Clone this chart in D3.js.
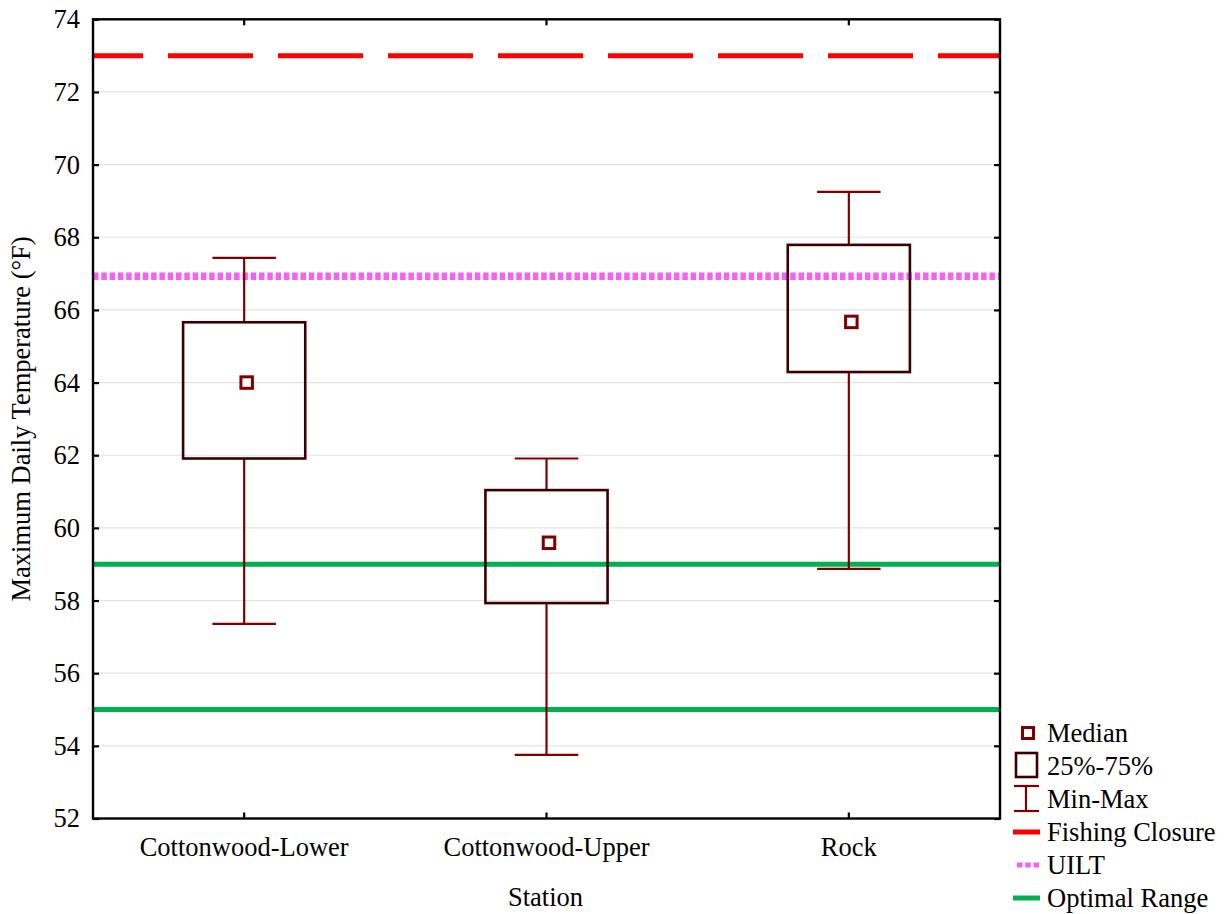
<!DOCTYPE html>
<html>
<head>
<meta charset="utf-8">
<script src="https://cdn.jsdelivr.net/npm/d3@7"></script>
<style>
  html, body { margin: 0; padding: 0; background: #fff; }
  svg { display: block; }
</style>
</head>
<body>
<svg id="chart" width="1226" height="914"></svg>
<script>
// ---- data ----
const stations = ["Cottonwood-Lower", "Cottonwood-Upper", "Rock"];
const minVals = [57.36, 53.75, 58.87];
const q1Vals = [61.91, 57.93, 64.29];
const medianVals = [64.0, 59.59, 65.67];
const q3Vals = [65.66, 61.04, 67.79];
const maxVals = [67.43, 61.91, 69.25];
const yTicks = [52, 54, 56, 58, 60, 62, 64, 66, 68, 70, 72, 74];
const fishingClosure = 73;
const uilt = 66.93;
const optimalRange = [55, 59];
const legendLabels = ["Median", "25%-75%", "Min-Max", "Fishing Closure", "UILT", "Optimal Range"];

// ---- layout ----
const L = 93, R = 1000, T = 19.3, B = 818.5;
const FONT = '"Liberation Serif", "Times New Roman", serif';
const fontSize = 26.5;
const svg = d3.select("#chart");

const x = d3.scaleBand().domain(stations).range([L, R]).padding(0);
const y = d3.scaleLinear().domain([52, 74]).range([B, T]);

const boxColor = "#3a0000";
const whiskColor = "#800000";

// gridlines
svg.append("g").selectAll("line")
  .data(yTicks.filter(d => d > 52 && d < 74))
  .join("line")
  .attr("x1", L).attr("x2", R)
  .attr("y1", d => y(d)).attr("y2", d => y(d))
  .attr("stroke", "#e3e3e3").attr("stroke-width", 1.2);

// axes (ticks inward)
const yAxisL = d3.axisLeft(y).tickValues(yTicks).tickSize(-6).tickPadding(13).tickFormat(d3.format("d"));
const gL = svg.append("g").attr("transform", `translate(${L},0)`).call(yAxisL)
  .attr("font-family", FONT).attr("font-size", fontSize);
gL.select(".domain").remove();
gL.selectAll(".tick line").attr("stroke", "#000").attr("stroke-width", 2.2);
gL.selectAll(".tick text").attr("font-size", fontSize).attr("font-family", FONT).attr("fill", "#000");

const yAxisR = d3.axisRight(y).tickValues(yTicks).tickSize(-6).tickFormat("");
const gR = svg.append("g").attr("transform", `translate(${R},0)`).call(yAxisR);
gR.select(".domain").remove();
gR.selectAll(".tick line").attr("stroke", "#000").attr("stroke-width", 2.2);

const xAxisB = d3.axisBottom(x).tickSize(-6).tickPadding(19);
const gB = svg.append("g").attr("transform", `translate(0,${B})`).call(xAxisB)
  .attr("font-family", FONT).attr("font-size", fontSize);
gB.select(".domain").remove();
gB.selectAll(".tick line").attr("stroke", "#000").attr("stroke-width", 2.2);
gB.selectAll(".tick text").attr("font-size", fontSize).attr("font-family", FONT).attr("fill", "#000");

const xAxisT = d3.axisTop(x).tickSize(-6).tickFormat("");
const gT = svg.append("g").attr("transform", `translate(0,${T})`).call(xAxisT);
gT.select(".domain").remove();
gT.selectAll(".tick line").attr("stroke", "#000").attr("stroke-width", 2.2);

// reference lines
svg.append("line")
  .attr("x1", L).attr("x2", R)
  .attr("y1", y(fishingClosure)).attr("y2", y(fishingClosure))
  .attr("stroke", "#ff0000").attr("stroke-width", 5)
  .attr("stroke-dasharray", "85,25").attr("stroke-dashoffset", 35);

svg.append("line")
  .attr("x1", L).attr("x2", R)
  .attr("y1", y(uilt)).attr("y2", y(uilt))
  .attr("stroke", "#f760f5").attr("stroke-width", 7.5)
  .attr("stroke-dasharray", "5.5,2.8");

svg.append("g").selectAll("line").data(optimalRange).join("line")
  .attr("x1", L).attr("x2", R)
  .attr("y1", d => y(d)).attr("y2", d => y(d))
  .attr("stroke", "#00b050").attr("stroke-width", 5);

// boxes
const bw = x.bandwidth();
const boxW = bw * 0.404;
const capW = bw * 0.21;
const data = stations.map((s, i) => ({
  s, min: minVals[i], q1: q1Vals[i], med: medianVals[i], q3: q3Vals[i], max: maxVals[i]
}));
const cx = d => x(d.s) + bw / 2;

const g = svg.append("g");
g.append("g").selectAll("line").data(data).join("line")
  .attr("x1", cx).attr("x2", cx)
  .attr("y1", d => y(d.q3)).attr("y2", d => y(d.max))
  .attr("stroke", whiskColor).attr("stroke-width", 2.2);
g.append("g").selectAll("line").data(data).join("line")
  .attr("x1", cx).attr("x2", cx)
  .attr("y1", d => y(d.q1)).attr("y2", d => y(d.min))
  .attr("stroke", whiskColor).attr("stroke-width", 2.2);
["max", "min"].forEach(k => {
  g.append("g").selectAll("line").data(data).join("line")
    .attr("x1", d => cx(d) - capW / 2).attr("x2", d => cx(d) + capW / 2)
    .attr("y1", d => y(d[k])).attr("y2", d => y(d[k]))
    .attr("stroke", whiskColor).attr("stroke-width", 2.2);
});
g.append("g").selectAll("rect").data(data).join("rect")
  .attr("x", d => cx(d) - boxW / 2)
  .attr("width", boxW)
  .attr("y", d => y(d.q3))
  .attr("height", d => y(d.q1) - y(d.q3))
  .attr("fill", "none").attr("stroke", boxColor).attr("stroke-width", 2.6);
const ms = 11.5;
g.append("g").selectAll("rect").data(data).join("rect")
  .attr("x", d => cx(d) + 2.5 - ms / 2)
  .attr("y", d => y(d.med) - ms / 2)
  .attr("width", ms).attr("height", ms)
  .attr("fill", "#fff").attr("stroke", whiskColor).attr("stroke-width", 3);

// frame
svg.append("rect")
  .attr("x", L).attr("y", T).attr("width", R - L).attr("height", B - T)
  .attr("fill", "none").attr("stroke", "#000").attr("stroke-width", 2.4);

// axis titles
svg.append("text")
  .attr("x", (L + R) / 2 - 1).attr("y", 906)
  .attr("text-anchor", "middle").attr("font-size", fontSize).attr("font-family", FONT).attr("fill", "#000")
  .text("Station");
svg.append("text")
  .attr("transform", `translate(30,${(T + B) / 2}) rotate(-90)`)
  .attr("text-anchor", "middle").attr("font-size", fontSize).attr("font-family", FONT).attr("fill", "#000")
  .text("Maximum Daily Temperature (°F)");

// legend
const lg = svg.append("g");
const ly0 = 733, lstep = 33;
const ltx = 1047;
lg.selectAll("text").data(legendLabels).join("text")
  .attr("x", ltx).attr("y", (d, i) => ly0 + i * lstep)
  .attr("dy", "0.35em").attr("font-size", fontSize).attr("font-family", FONT).attr("fill", "#000")
  .text(d => d);
lg.append("rect").attr("x", 1022.5).attr("y", ly0 - 5.5).attr("width", 11).attr("height", 11)
  .attr("fill", "#fff").attr("stroke", whiskColor).attr("stroke-width", 3);
lg.append("rect").attr("x", 1016).attr("y", ly0 + lstep - 13).attr("width", 21).attr("height", 24)
  .attr("fill", "none").attr("stroke", boxColor).attr("stroke-width", 2.6);
const mmY = ly0 + 2 * lstep;
lg.append("line").attr("x1", 1026).attr("x2", 1026).attr("y1", mmY - 13).attr("y2", mmY + 12)
  .attr("stroke", whiskColor).attr("stroke-width", 2.2);
lg.append("line").attr("x1", 1014).attr("x2", 1039).attr("y1", mmY - 13).attr("y2", mmY - 13)
  .attr("stroke", whiskColor).attr("stroke-width", 2.2);
lg.append("line").attr("x1", 1014).attr("x2", 1039).attr("y1", mmY + 12).attr("y2", mmY + 12)
  .attr("stroke", whiskColor).attr("stroke-width", 2.2);
lg.append("line").attr("x1", 1013).attr("x2", 1040).attr("y1", ly0 + 3 * lstep).attr("y2", ly0 + 3 * lstep)
  .attr("stroke", "#ff0000").attr("stroke-width", 5);
lg.append("line").attr("x1", 1017).attr("x2", 1040).attr("y1", ly0 + 4 * lstep).attr("y2", ly0 + 4 * lstep)
  .attr("stroke", "#f760f5").attr("stroke-width", 5).attr("stroke-dasharray", "5.5,2.8");
lg.append("line").attr("x1", 1013).attr("x2", 1040).attr("y1", ly0 + 5 * lstep).attr("y2", ly0 + 5 * lstep)
  .attr("stroke", "#00b050").attr("stroke-width", 5);
</script>
</body>
</html>
